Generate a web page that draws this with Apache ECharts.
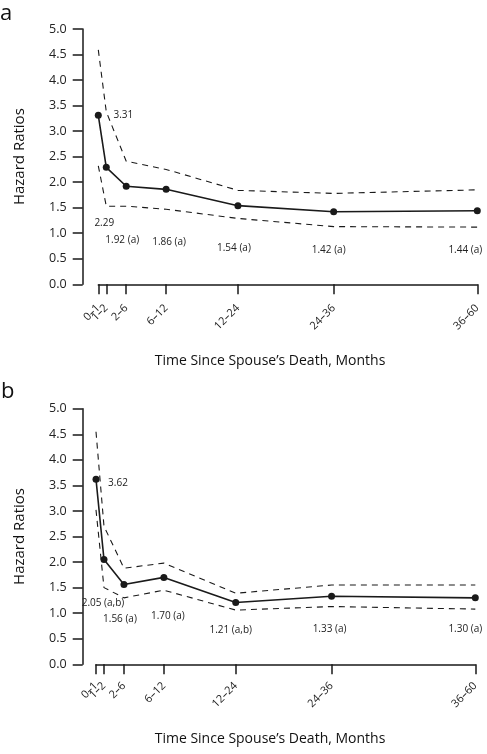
<!DOCTYPE html>
<html>
<head>
<meta charset="utf-8">
<script src="https://cdn.jsdelivr.net/npm/echarts@6/dist/echarts.min.js"></script>
<style>
html,body{margin:0;padding:0;background:#fff;}
#chart{width:487px;height:754px;}
</style>
</head>
<body>
<div id="chart"></div>
<script>
// ---- data ----
const months = [0.5, 1.5, 4, 9, 18, 30, 48];
const tickLabels = ['0–1', '1–2', '2–6', '6–12', '12–24', '24–36', '36–60'];
const yTicks = [0, 0.5, 1, 1.5, 2, 2.5, 3, 3.5, 4, 4.5, 5];

const hrA = [3.31, 2.29, 1.92, 1.86, 1.54, 1.42, 1.44];
const upperA = [4.59, 3.38, 2.41, 2.25, 1.84, 1.78, 1.85];
const lowerA = [2.32, 1.53, 1.53, 1.47, 1.29, 1.13, 1.12];
const notesA = ['', '', '(a)', '(a)', '(a)', '(a)', '(a)'];

const hrB = [3.62, 2.05, 1.56, 1.70, 1.21, 1.33, 1.30];
const upperB = [4.55, 2.70, 1.88, 1.98, 1.39, 1.55, 1.55];
const lowerB = [3.02, 1.50, 1.30, 1.45, 1.06, 1.13, 1.08];
const notesB = ['', '(a,b)', '(a)', '(a)', '(a,b)', '(a)', '(a)'];

// ---- styling / layout ----
const FONT = '"Open Sans", "Liberation Sans", sans-serif';
const INK = '#1a1a1a';
const labelOffA = [[25, 0], [-2, 56], [-4, 54], [3, 53], [-4, 42], [-5, 38], [-12, 39]];
const labelOffB = [[22, 4], [-1, 44], [-4, 35], [4, 39], [-5, 28], [-2, 33], [-10, 31]];

function pts(vals) { return months.map((m, i) => [m, vals[i]]); }

function mainSeries(idx, vals, notes, offs) {
  return {
    type: 'line', xAxisIndex: idx, yAxisIndex: idx,
    data: months.map((m, i) => ({
      value: [m, vals[i]],
      label: {
        show: true,
        position: 'inside',
        offset: offs[i],
        formatter: () => vals[i].toFixed(2) + (notes[i] ? ' ' + notes[i] : '')
      }
    })),
    symbol: 'circle', symbolSize: 7,
    itemStyle: { color: INK },
    lineStyle: { color: INK, width: 1.6 },
    label: { color: '#222', fontSize: 10, fontFamily: FONT },
    z: 5, silent: true, animation: false
  };
}
function ciSeries(idx, vals) {
  return {
    type: 'line', xAxisIndex: idx, yAxisIndex: idx,
    data: pts(vals), symbol: 'none',
    lineStyle: { color: INK, width: 1.1, type: [6, 5] },
    z: 3, silent: true, animation: false
  };
}
function xAx(idx, offset, vals, showLine) {
  return {
    type: 'value', gridIndex: idx, position: 'bottom',
    min: months[0], max: months[months.length - 1],
    offset: offset,
    axisLine: { show: showLine, lineStyle: { color: INK, width: 1.5 } },
    axisTick: { show: showLine, length: 10, interval: 0, lineStyle: { color: INK, width: 1.5 }, customValues: months },
    axisLabel: {
      customValues: vals, rotate: 45, margin: 13, fontSize: 11, color: '#222', fontFamily: FONT,
      interval: 0, showMinLabel: true, showMaxLabel: true, hideOverlap: false,
      formatter: v => { const k = months.indexOf(v); return k >= 0 ? tickLabels[k] : ''; }
    },
    splitLine: { show: false }
  };
}
function yAx(idx, offset) {
  return {
    type: 'value', gridIndex: idx, min: 0, max: 5, interval: 0.5, offset: offset,
    name: 'Hazard Ratios', nameLocation: 'middle', nameGap: 55,
    nameTextStyle: { fontSize: 15, color: '#111', fontFamily: FONT },
    axisLine: { show: true, lineStyle: { color: INK, width: 1.5 } },
    axisTick: { show: true, length: 10, lineStyle: { color: INK, width: 1.5 }, customValues: yTicks },
    axisLabel: { margin: 16, fontSize: 12.5, color: '#222', fontFamily: FONT,
      customValues: yTicks, formatter: v => v.toFixed(1) },
    splitLine: { show: false }
  };
}

// labels that sit at even / odd positions (drawn on two overlaid axes so none gets dropped)
const evenMonths = months.filter((m, i) => i % 2 === 0);
const oddMonths = months.filter((m, i) => i % 2 === 1);

const chart = echarts.init(document.getElementById('chart'), null, { renderer: 'canvas' });
chart.setOption({
  animation: false,
  backgroundColor: '#fff',
  title: [
    { text: 'a', left: 0, top: 3, textStyle: { fontSize: 22, fontWeight: 'normal', color: '#111', fontFamily: FONT }, padding: 0 },
    { text: 'b', left: 1, top: 381, textStyle: { fontSize: 22, fontWeight: 'normal', color: '#111', fontFamily: FONT }, padding: 0 },
    { text: 'Time Since Spouse\u2019s Death, Months', left: 270, textAlign: 'center', top: 354, padding: 0,
      textStyle: { fontSize: 14, fontWeight: 'normal', color: '#111', fontFamily: FONT } },
    { text: 'Time Since Spouse\u2019s Death, Months', left: 270, textAlign: 'center', top: 732, padding: 0,
      textStyle: { fontSize: 14, fontWeight: 'normal', color: '#111', fontFamily: FONT } }
  ],
  grid: [
    { left: 98.3, right: 9.7, top: 29, height: 255.3, containLabel: false },
    { left: 96, right: 11.7, top: 408.7, height: 255.6, containLabel: false }
  ],
  xAxis: [
    xAx(0, 9, evenMonths, true), xAx(1, 6.7, evenMonths, true),
    xAx(0, 9, oddMonths, false), xAx(1, 6.7, oddMonths, false)
  ],
  yAxis: [yAx(0, 15.6), yAx(1, 13.3)],
  series: [
    ciSeries(0, upperA), ciSeries(0, lowerA), mainSeries(0, hrA, notesA, labelOffA),
    ciSeries(1, upperB), ciSeries(1, lowerB), mainSeries(1, hrB, notesB, labelOffB)
  ]
});
</script>
</body>
</html>
